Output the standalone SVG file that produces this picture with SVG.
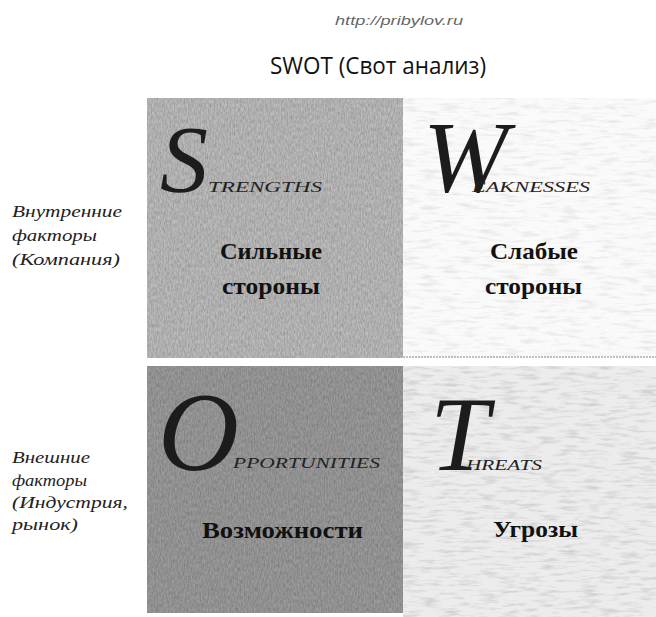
<svg xmlns="http://www.w3.org/2000/svg" width="656" height="617" viewBox="0 0 656 617">
<defs>
<filter id="grain" x="0" y="0" width="1" height="1">
<feTurbulence type="fractalNoise" baseFrequency="0.7 0.25" numOctaves="3" seed="4"/>
<feColorMatrix type="matrix" values="0 0 0 0 0  0 0 0 0 0  0 0 0 0 0  0 0 0 -1.2 1"/>
<feComponentTransfer><feFuncA type="linear" slope="0.45" intercept="-0.05"/></feComponentTransfer>
</filter>
<filter id="grainLight" x="0" y="0" width="1" height="1">
<feTurbulence type="fractalNoise" baseFrequency="0.05 0.3" numOctaves="3" seed="9"/>
<feColorMatrix type="matrix" values="0 0 0 0 0  0 0 0 0 0  0 0 0 0 0  0 0 0 -1.6 1"/>
<feComponentTransfer><feFuncA type="linear" slope="0.35" intercept="-0.05"/></feComponentTransfer>
</filter>
</defs>
<style>
.url{font-family:"Liberation Sans",Arial,sans-serif;font-style:italic;font-size:12px;fill:#666}
.title{font-family:"Open Sans","DejaVu Sans",sans-serif;font-size:24px;fill:#111}
.big{font-family:"Liberation Serif","Times New Roman",serif;font-style:italic;fill:#1c1c1c}
.rest{font-family:"Liberation Serif","Times New Roman",serif;font-style:italic;font-size:15px;fill:#222}
.lbl{font-family:"Liberation Serif","Times New Roman",serif;font-weight:bold;font-size:23px;fill:#111}
.side{font-family:"Liberation Serif","Times New Roman",serif;font-style:italic;font-size:17px;fill:#222}
</style>
<rect width="656" height="617" fill="#ffffff"/>
<text class="url" x="335" y="25" textLength="128" lengthAdjust="spacingAndGlyphs">http://pribylov.ru</text>
<text class="title" x="270" y="74" textLength="216" lengthAdjust="spacingAndGlyphs">SWOT (Свот анализ)</text>

<g id="side-internal">
<text class="side" x="12" y="217" textLength="110" lengthAdjust="spacingAndGlyphs">Внутренние</text>
<text class="side" x="12" y="241" textLength="85" lengthAdjust="spacingAndGlyphs">факторы</text>
<text class="side" x="12" y="265" textLength="108" lengthAdjust="spacingAndGlyphs">(Компания)</text>
</g>
<g id="side-external">
<text class="side" x="12" y="463" textLength="78" lengthAdjust="spacingAndGlyphs">Внешние</text>
<text class="side" x="12" y="486" textLength="75" lengthAdjust="spacingAndGlyphs">факторы</text>
<text class="side" x="12" y="508" textLength="116" lengthAdjust="spacingAndGlyphs">(Индустрия,</text>
<text class="side" x="12" y="530" textLength="66" lengthAdjust="spacingAndGlyphs">рынок)</text>
</g>

<g id="weaknesses">
<rect x="403" y="98" width="253" height="260" fill="#fafafa"/>
<rect x="403" y="98" width="253" height="260" fill="#000" filter="url(#grainLight)" opacity="0.35"/>
<line x1="403" y1="357" x2="656" y2="357" stroke="#888" stroke-width="1" stroke-dasharray="2 1"/>
<text class="big" x="423" y="192" font-size="102">W</text>
<text class="rest" x="472" y="192" textLength="118" lengthAdjust="spacingAndGlyphs">EAKNESSES</text>
<text class="lbl" x="490" y="259" textLength="88" lengthAdjust="spacingAndGlyphs">Слабые</text>
<text class="lbl" x="485" y="294" textLength="97" lengthAdjust="spacingAndGlyphs">стороны</text>
</g>

<g id="threats">
<rect x="403" y="366" width="253" height="251" fill="#ececec"/>
<rect x="403" y="366" width="253" height="251" fill="#000" filter="url(#grainLight)" opacity="0.55"/>
<text class="big" x="430" y="470" font-size="106">T</text>
<text class="rest" x="466" y="470" textLength="76" lengthAdjust="spacingAndGlyphs">HREATS</text>
<text class="lbl" x="493" y="537" textLength="85" lengthAdjust="spacingAndGlyphs">Угрозы</text>
</g>

<g id="strengths">
<rect x="147" y="98" width="256" height="260" fill="#bdbdbd"/>
<rect x="147" y="98" width="256" height="260" fill="#000" filter="url(#grain)" opacity="0.6"/>
<text class="big" x="160" y="192" font-size="96">S</text>
<text class="rest" x="208" y="192" textLength="114" lengthAdjust="spacingAndGlyphs">TRENGTHS</text>
<text class="lbl" x="220" y="259" textLength="102" lengthAdjust="spacingAndGlyphs">Сильные</text>
<text class="lbl" x="222" y="294" textLength="98" lengthAdjust="spacingAndGlyphs">стороны</text>
</g>

<g id="opportunities">
<rect x="147" y="366" width="256" height="247" fill="#9c9c9c"/>
<rect x="147" y="366" width="256" height="247" fill="#000" filter="url(#grain)" opacity="0.6"/>
<text class="big" x="158" y="470" font-size="112">O</text>
<text class="rest" x="233" y="468" textLength="147" lengthAdjust="spacingAndGlyphs">PPORTUNITIES</text>
<text class="lbl" x="202" y="538" textLength="161" lengthAdjust="spacingAndGlyphs">Возможности</text>
</g>

<g id="connectors"></g>
</svg>
